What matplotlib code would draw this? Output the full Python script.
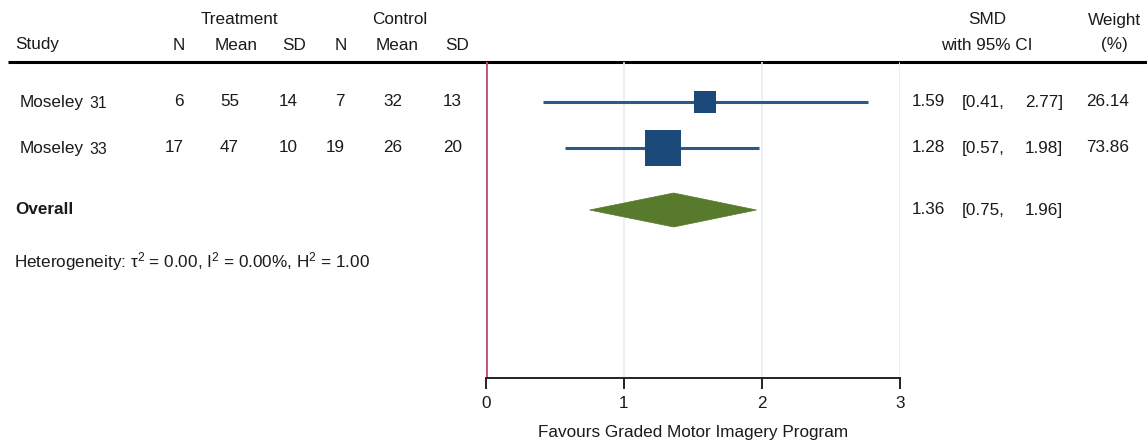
import matplotlib
matplotlib.use("Agg")
import matplotlib.pyplot as plt
from matplotlib.patches import Polygon
import numpy as np

plt.rcParams["font.family"] = ["Liberation Sans", "DejaVu Sans"]
plt.rcParams["mathtext.fontset"] = "custom"
plt.rcParams["mathtext.rm"] = "Liberation Sans"
plt.rcParams["mathtext.it"] = "Liberation Sans"

# ---- data ----
studies = ["Moseley", "Moseley"]
study_refs = ["31", "33"]
treat_n = [6, 17]
treat_mean = [55, 47]
treat_sd = [14, 10]
ctrl_n = [7, 19]
ctrl_mean = [32, 26]
ctrl_sd = [13, 20]
smd = [1.59, 1.28]
ci_low = [0.41, 0.57]
ci_high = [2.77, 1.98]
weights = [26.14, 73.86]
overall_smd = 1.36
overall_low = 0.75
overall_high = 1.96
heterogeneity = "Heterogeneity: τ$^{2}$ = 0.00, I$^{2}$ = 0.00%, H$^{2}$ = 1.00"
x_ticks = [0, 1, 2, 3]
x_label = "Favours Graded Motor Imagery Program"

# ---- layout (figure pixels, origin top-left) ----
W, H, DPI = 1147, 446, 100
AX_L, AX_R, AX_T, AX_B = 486, 900, 62, 378
ROW_Y = [102, 148]
OVERALL_Y = 210
HET_Y = 262
FS = 12.3
SMALL = 11.3

BLUE = "#1b4a7a"
LINE_BLUE = "#2b5a88"
GREEN = "#587a2c"
RED = "#bf4f73"
GRID = "#e6eef2"
TEXT = "#1a1a1a"

fig = plt.figure(figsize=(W / DPI, H / DPI), dpi=DPI)
fig.patch.set_facecolor("white")

# overlay axes in pixel coordinates for the table text
ov = fig.add_axes([0, 0, 1, 1])
ov.set_xlim(0, W)
ov.set_ylim(H, 0)
ov.axis("off")

# forest axes
ax = fig.add_axes([AX_L / W, 1 - AX_B / H, (AX_R - AX_L) / W, (AX_B - AX_T) / H])
ax.set_xlim(0, 3)
ax.set_ylim(AX_B, AX_T)
ax.set_facecolor("none")
for s in ["top", "right", "left"]:
    ax.spines[s].set_visible(False)
ax.spines["bottom"].set_linewidth(1.4)
ax.spines["bottom"].set_color("#222222")
ax.set_yticks([])
ax.set_xticks(x_ticks)
ax.set_xticklabels([str(t) for t in x_ticks], fontsize=FS, color=TEXT)
ax.tick_params(axis="x", length=8, width=1.4, color="#222222", pad=5)
ax.set_xlabel(x_label, fontsize=FS, labelpad=10, color=TEXT)

for t in x_ticks[1:]:
    ax.axvline(t, color=GRID, lw=1.2, zorder=0)
ax.axvline(0, color=RED, lw=2.0, zorder=1)

# study CIs and squares sized by weight
k_px = 36 / np.sqrt(max(weights))
for y, m, lo, hi, w in zip(ROW_Y, smd, ci_low, ci_high, weights):
    ax.plot([lo, hi], [y, y], color=LINE_BLUE, lw=2.2, solid_capstyle="butt", zorder=2)
    side_pt = k_px * np.sqrt(w) * 72 / DPI
    ax.plot([m], [y], marker="s", markersize=side_pt, color=BLUE,
            markeredgewidth=0, zorder=3)

# overall diamond
half_h = 17
diamond = Polygon([[overall_low, OVERALL_Y], [overall_smd, OVERALL_Y - half_h],
                   [overall_high, OVERALL_Y], [overall_smd, OVERALL_Y + half_h]],
                  closed=True, facecolor=GREEN, edgecolor=GREEN, lw=0.5, zorder=3)
ax.add_patch(diamond)

# header rule
ov.plot([8, W], [62, 62], color="black", lw=2.2, solid_capstyle="butt")


def txt(x, y, s, ha="left", **kw):
    kw.setdefault("fontsize", FS)
    ov.text(x, y, s, ha=ha, va="center", color=TEXT, **kw)


# header
txt(15, 45, "Study")
txt(239, 20, "Treatment", ha="center")
txt(400, 20, "Control", ha="center")
for x, s in [(185, "N"), (258, "Mean"), (306, "SD"), (347, "N"), (419, "Mean"), (469, "SD")]:
    txt(x, 45, s, ha="right")
txt(987, 20, "SMD", ha="center")
txt(987, 45, "with 95% CI", ha="center")
txt(1114, 20, "Weight", ha="center")
txt(1114, 45, "(%)", ha="center")

# study rows
col_right = [184, 239, 298, 345, 402, 462]
for i, y in enumerate(ROW_Y):
    txt(20, y, studies[i])
    txt(89, y + 2, study_refs[i], fontsize=SMALL)
    vals = [treat_n[i], treat_mean[i], treat_sd[i], ctrl_n[i], ctrl_mean[i], ctrl_sd[i]]
    for x, v in zip(col_right, vals):
        txt(x, y, str(v), ha="right")
    txt(945, y, f"{smd[i]:.2f}", ha="right")
    txt(962, y, f"[{ci_low[i]:.2f},")
    txt(1063, y, f"{ci_high[i]:.2f}]", ha="right")
    txt(1129, y, f"{weights[i]:.2f}", ha="right")

# overall row
txt(15, OVERALL_Y, "Overall", fontweight="bold")
txt(945, OVERALL_Y, f"{overall_smd:.2f}", ha="right")
txt(962, OVERALL_Y, f"[{overall_low:.2f},")
txt(1063, OVERALL_Y, f"{overall_high:.2f}]", ha="right")

txt(14, HET_Y, heterogeneity)

fig.savefig("out.png", dpi=DPI, facecolor="white")
